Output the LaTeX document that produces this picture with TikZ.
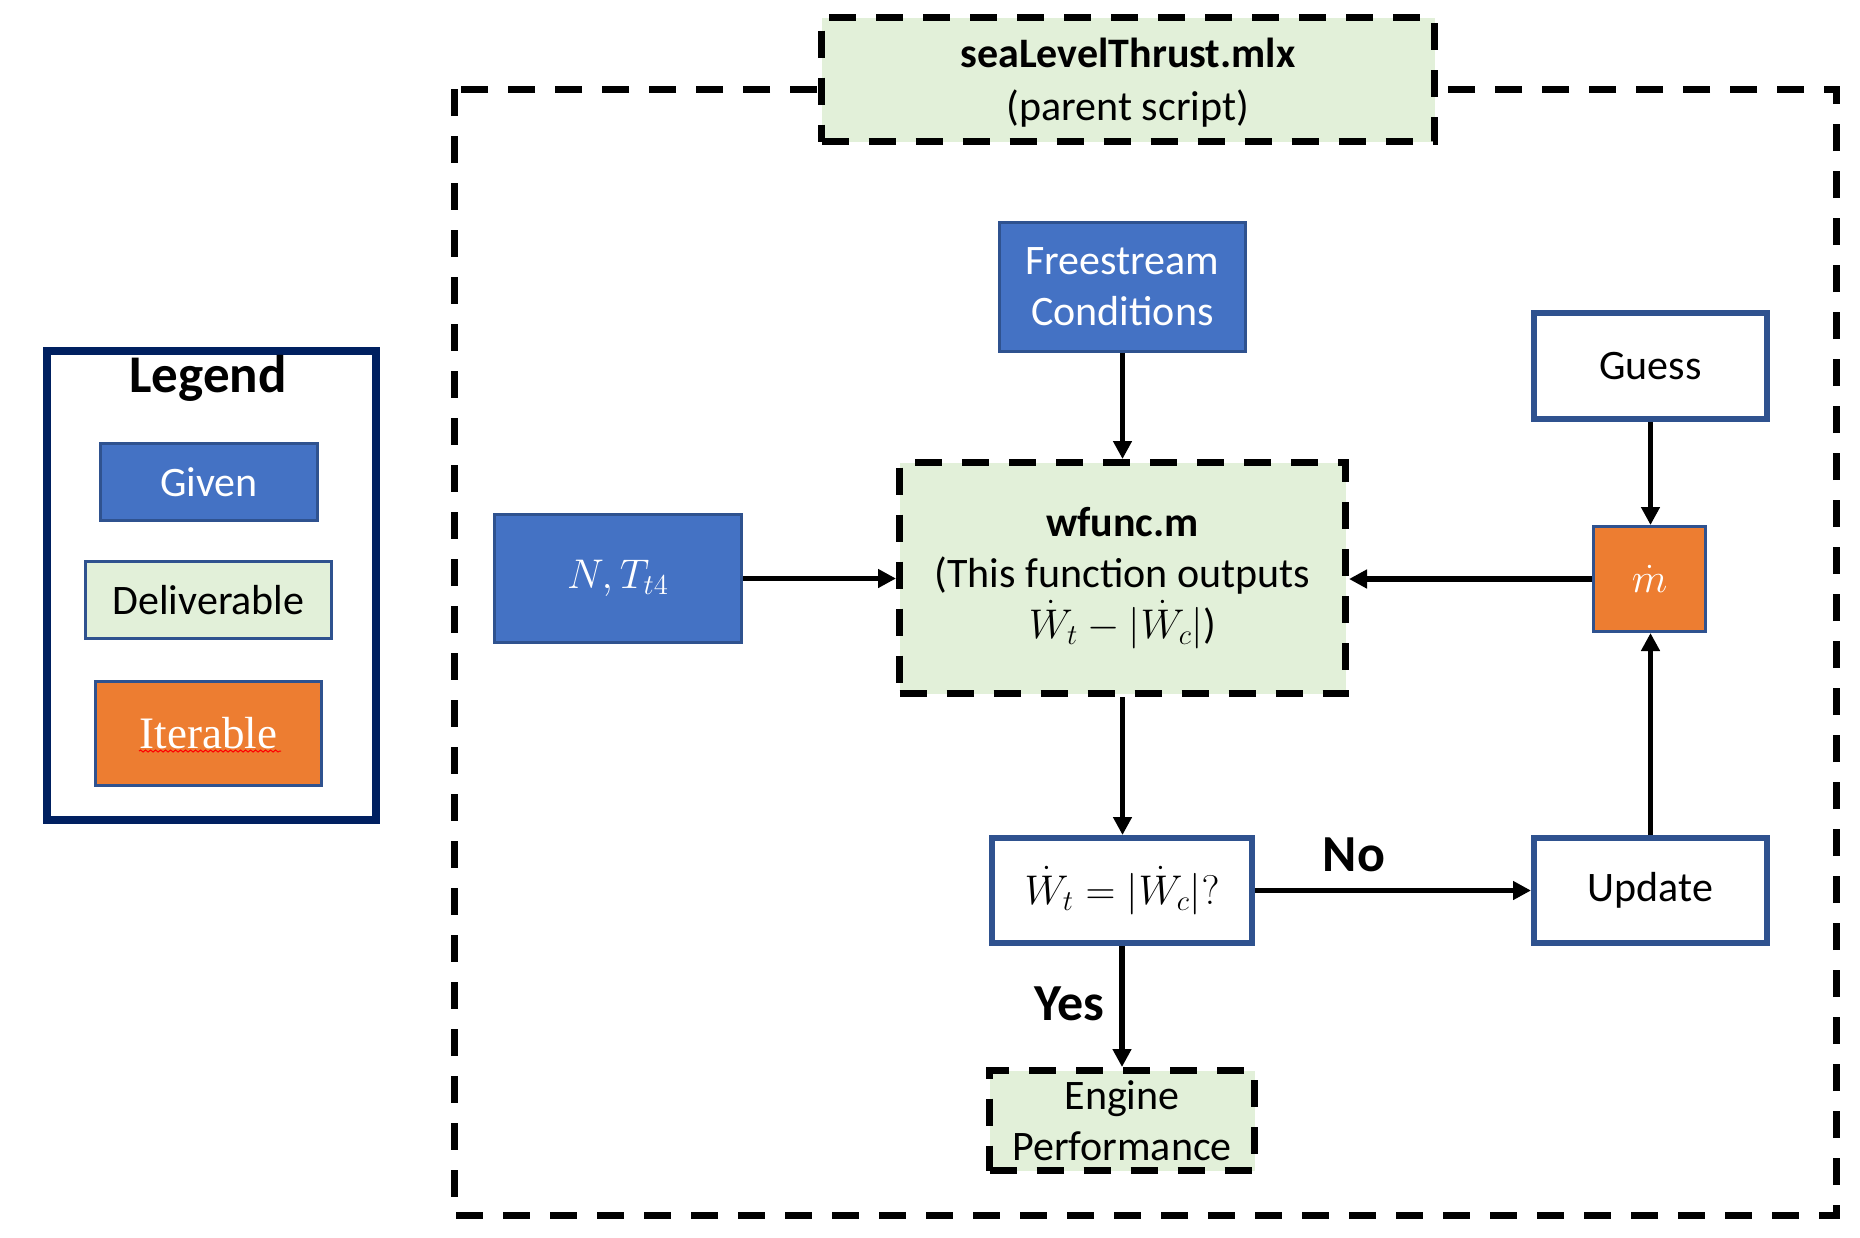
\documentclass[tikz,border=0pt]{standalone}
\usepackage{fontspec}
\setmainfont{Carlito}
\newfontfamily\serifx{Liberation Serif}
\usetikzlibrary{arrows.meta,decorations.pathmorphing}
\definecolor{gblue}{HTML}{4472C4}
\definecolor{bdr}{HTML}{2F528F}
\definecolor{ggreen}{HTML}{E2F0D9}
\definecolor{gorange}{HTML}{ED7D31}
\definecolor{navy}{HTML}{002060}
\tikzset{
 base/.style={rectangle, inner sep=0pt, align=center, font=\fontsize{21}{25.5}\selectfont},
 given/.style={base, fill=gblue, draw=bdr, line width=1.5pt, text=white},
 deliv/.style={base, fill=ggreen, draw=black, line width=3.5pt, dash pattern=on 13.5pt off 10pt},
 legdeliv/.style={base, fill=ggreen, draw=bdr, line width=1.5pt},
 iter/.style={base, fill=gorange, draw=bdr, line width=1.5pt, text=white},
 plain/.style={base, fill=white, draw=bdr, line width=3pt},
 flow/.style={line width=2.75pt, -{Triangle[length=9pt,width=9pt]}},
 lbl/.style={font=\fontsize{26}{30}\selectfont\bfseries},
}
\begin{document}
\begin{tikzpicture}[x=0.5pt,y=-0.5pt]
\useasboundingbox[fill=white] (0,0) rectangle (1860,1238);
% outer frame
\draw[line width=3.5pt, dash pattern=on 13.5pt off 10pt] (454,89) rectangle (1836,1215);
% top box
\node[deliv, minimum width=306.5pt, minimum height=62pt] (top) at (1128,79.5) {};
\node[base] (toptext) at (1128,83) {\textbf{seaLevelThrust.mlx}\\[1pt](parent script)};
% legend
\draw[navy, line width=4pt] (47,351) rectangle (376,820);
\node[font=\fontsize{26.5}{30}\selectfont\bfseries] (legtitle) at (208,378) {Legend};
\node[given, minimum width=108.5pt, minimum height=38.5pt] (lgiven) at (209,482) {Given};
\node[legdeliv, minimum width=123pt, minimum height=38.5pt] (ldeliv) at (208.5,600) {Deliverable};
\node[iter, minimum width=113pt, minimum height=52pt, font=\fontsize{22.5}{25}\serifx] (liter) at (208.5,733.5) {Iterable};
\draw[red, line width=0.5pt, decorate, decoration={snake, amplitude=0.5pt, segment length=2.5pt}] (139,751) -- (281,751);
% main nodes
\node[given, minimum width=123.5pt, minimum height=64pt, font=\fontsize{22}{26}\selectfont] (N) at (618,578.5) {$N, T_{t4}$};
\node[given, minimum width=123pt, minimum height=64.5pt] (free) at (1122.5,287) {Freestream\\Conditions};
\node[deliv, minimum width=223pt, minimum height=115.5pt] (wfunc) at (1122.5,578)
  {\textbf{wfunc.m}\\(This function outputs\\$\dot{W}_t - |\dot{W}_c|$)};
\node[plain, minimum width=116.5pt, minimum height=53pt] (guess) at (1650.5,366) {Guess};
\node[iter, minimum width=56pt, minimum height=52.5pt, font=\fontsize{22}{26}\selectfont] (mdot) at (1649.5,579) {$\dot{m}$};
\node[plain, minimum width=130pt, minimum height=52.5pt] (check) at (1122,890.5) {$\dot{W}_t = |\dot{W}_c|?$};
\node[plain, minimum width=116.5pt, minimum height=52.5pt] (update) at (1650.5,890.5) {Update};
\node[deliv, minimum width=132.5pt, minimum height=50pt] (engine) at (1122,1120.5) {Engine\\Performance};
% connectors
\draw[flow] (free.south) -- (free.south |- wfunc.north);
\draw[flow] (N.east) -- (N.east -| wfunc.west);
\draw[flow] (mdot.west) -- (mdot.west -| wfunc.east);
\draw[flow] (guess.south) -- (guess.south |- mdot.north);
\draw[flow] (update.north) -- (update.north |- mdot.south);
\draw[flow] (wfunc.south) -- (wfunc.south |- check.north);
\draw[flow] (check.east) -- (check.east -| update.west);
\draw[flow] (check.south) -- (check.south |- engine.north);
% labels
\node[lbl] (no) at (1354,855) {No};
\node[lbl] (yes) at (1069,1004) {Yes};
\end{tikzpicture}
\end{document}
